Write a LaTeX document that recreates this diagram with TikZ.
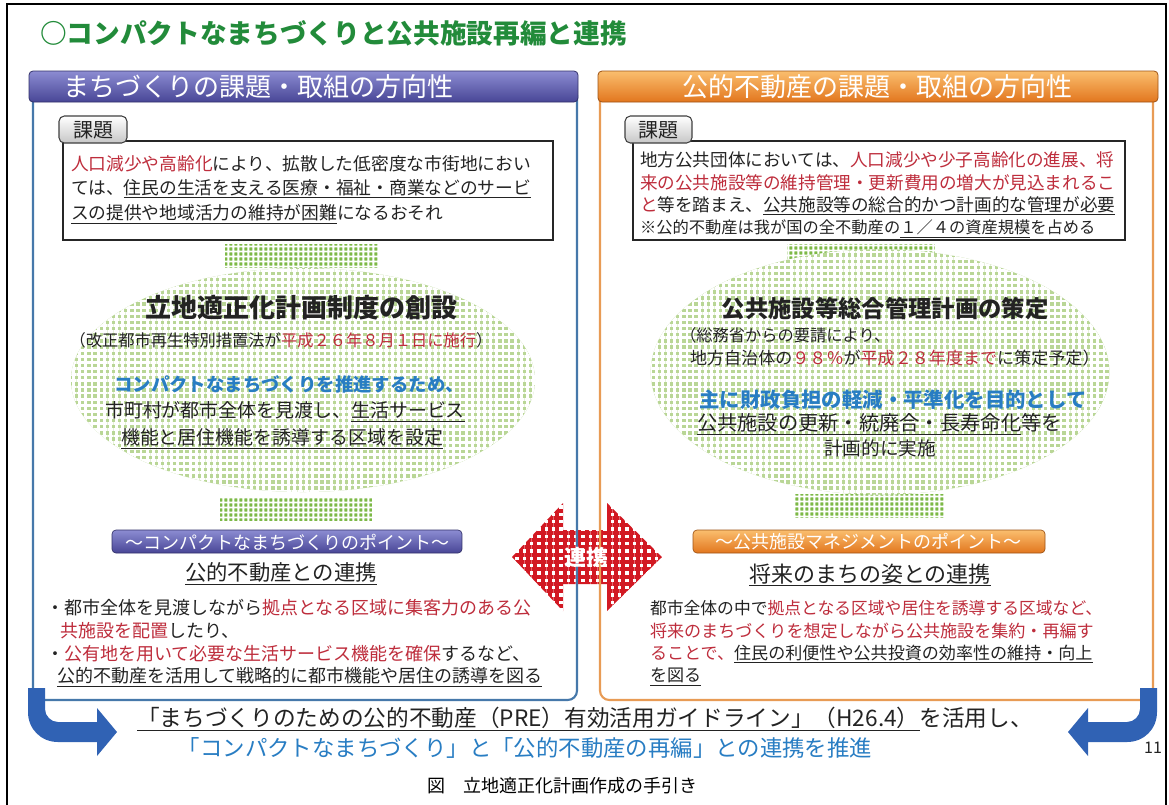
\documentclass[tikz,border=0pt]{standalone}
\usepackage{fontspec}
\setmainfont{Noto Sans CJK JP}
\usetikzlibrary{patterns.meta}
\definecolor{tgreen}{RGB}{34,139,58}
\definecolor{ptop}{RGB}{140,140,210}
\definecolor{pbot}{RGB}{72,70,150}
\definecolor{otop}{RGB}{250,190,110}
\definecolor{obot}{RGB}{226,118,30}
\definecolor{lborder}{RGB}{70,120,170}
\definecolor{rborder}{RGB}{232,155,85}
\definecolor{tred}{RGB}{190,45,60}
\definecolor{tblue}{RGB}{40,125,195}
\definecolor{ablue}{RGB}{48,98,180}
\definecolor{ared}{RGB}{210,25,35}
\definecolor{egreen}{RGB}{185,214,150}
\definecolor{cgreen}{RGB}{125,185,70}
\definecolor{tdark}{RGB}{35,35,35}
\newcommand\myfs[1]{\fontsize{#1}{#1}\selectfont}
\newcommand\rd[1]{\textcolor{tred}{#1}}
\newcommand\ul[1]{\underline{#1}}
\tikzset{
  txt/.style={anchor=west,font=\myfs{13.3},text=tdark},
  ctxt/.style={anchor=center,font=\myfs{13.3},text=tdark},
  hdrtxt/.style={anchor=center,font=\myfs{19.5},text=white},
  tabbox/.style={draw=black!75,line width=0.8pt,rounded corners=4pt,top color=white,bottom color=black!22},
  kbox/.style={draw=black!85,line width=0.9pt,fill=white},
  elbody/.style={fill=egreen},
  elgrid/.style={pattern={Hatch[distance=4.6pt,line width=2.1pt]},pattern color=white},
  capgrid/.style={pattern={Hatch[distance=4pt,line width=1.5pt]},pattern color=white},
}
\begin{document}
\begin{tikzpicture}[x=0.75pt,y=-0.75pt,every node/.style={inner sep=0pt,outer sep=0pt}]
\useasboundingbox (0,0) rectangle (1169,804);
\fill[white] (0,0) rectangle (1169,804);
% outer frame
\draw[line width=1.5pt] (7,810) -- (7,4) -- (1166,4) -- (1166,810);
% title
\node[anchor=west,font=\bfseries\myfs{20},text=tgreen] (title) at (40,33) {○コンパクトなまちづくりと公共施設再編と連携};

% ---------- red double arrow (behind panel borders)
\fill[white] (512,557) -- (563,503) -- (563,530) -- (607,530) -- (607,503) -- (662,557) -- (607,611) -- (607,584) -- (563,584) -- (563,611) -- cycle;
\fill[pattern={Hatch[distance=5.5pt,line width=3pt]},pattern color=ared] (512,557) -- (563,503) -- (563,530) -- (607,530) -- (607,503) -- (662,557) -- (607,611) -- (607,584) -- (563,584) -- (563,611) -- cycle;

% ---------- left panel
\draw[lborder,line width=1.6pt,rounded corners=7pt] (33,95) -- (33,700) -- (577,700) -- (577,95);
\shade[rounded corners=3pt,top color=ptop,bottom color=pbot,draw=pbot!70!black,line width=0.6pt] (29,71) rectangle (578,102);
\node[hdrtxt] (lhead) at (258,87) {まちづくりの課題・取組の方向性};

% ---------- right panel
\draw[rborder,line width=1.6pt,rounded corners=7pt] (600,95) -- (600,700) -- (1153,700) -- (1153,95);
\shade[rounded corners=3pt,top color=otop,bottom color=obot,draw=obot!70!black,line width=0.6pt] (598,71) rectangle (1158,102);
\node[hdrtxt] (rhead) at (877,87) {公的不動産の課題・取組の方向性};

% ---------- left kadai
\draw[kbox] (63,141) rectangle (553,240);
\shade[tabbox] (59,116) rectangle (127,143);
\node[font=\myfs{15},text=tdark] (ltab) at (93,130) {課題};
\node[txt] (lk1) at (71,164) {\rd{人口減少や高齢化}により、拡散した低密度な市街地におい};
\node[txt] (lk2) at (71,189) {ては、\ul{住民の生活を支える医療・福祉・商業などのサービ}};
\node[txt] (lk3) at (71,214) {\ul{スの提供や地域活力の維持が困難}になるおそれ};

% ---------- right kadai
\draw[kbox] (633,141) rectangle (1125,240);
\shade[tabbox] (625,116) rectangle (692,143);
\node[font=\myfs{15},text=tdark] (rtab) at (658,130) {課題};
\node[txt,font=\myfs{13.2}] (rk1) at (640,160) {地方公共団体においては、\rd{人口減少や少子高齢化の進展、将}};
\node[txt,font=\myfs{13.2}] (rk2) at (640,183) {\rd{来の公共施設等の維持管理・更新費用の増大が見込まれるこ}};
\node[txt,font=\myfs{13.2}] (rk3) at (640,206) {\rd{と}等を踏まえ、\ul{公共施設等の総合的かつ計画的な管理が必要}};
\node[txt,font=\myfs{12.2}] (rk4) at (640,229) {※公的不動産は我が国の全不動産の\ul{１／４の資産規模}を占める};

% ---------- left ellipse
\fill[cgreen] (225,244) rectangle (378,268);
\fill[capgrid] (225,244) rectangle (378,268);
\fill[cgreen] (220,498) rectangle (372,521);
\fill[capgrid] (220,498) rectangle (372,521);
\fill[elbody] (303,380) ellipse [x radius=174pt,y radius=84pt];
\fill[elgrid] (303,380) ellipse [x radius=174pt,y radius=84pt];
\node[ctxt,font=\bfseries\myfs{19.5}] (lel1) at (301,308) {立地適正化計画制度の創設};
\node[ctxt,font=\myfs{12.2}] (lel2) at (281,340) {（改正都市再生特別措置法が\rd{平成２６年８月１日に施行}）};
\node[ctxt,font=\bfseries\myfs{13.8},text=tblue] (lel3) at (289,384) {コンパクトなまちづくりを推進するため、};
\node[ctxt,font=\myfs{14.2}] (lel4) at (285,412) {市町村が都市全体を見渡し、\ul{生活サービス}};
\node[ctxt,font=\myfs{14.2}] (lel5) at (282,439) {\ul{機能と居住機能を誘導する区域を設定}};

% ---------- right ellipse
\fill[cgreen] (787,244) rectangle (935,264);
\fill[capgrid] (787,244) rectangle (935,264);
\fill[cgreen] (795,494) rectangle (945,518);
\fill[capgrid] (795,494) rectangle (945,518);
\fill[elbody] (880,372) ellipse [x radius=172pt,y radius=92pt];
\fill[elgrid] (880,372) ellipse [x radius=172pt,y radius=92pt];
\node[ctxt,font=\bfseries\myfs{17.5}] (rel1) at (885,309) {公共施設等総合管理計画の策定};
\node[txt,font=\myfs{12.2}] (rel2) at (680,335) {（総務省からの要請により、};
\node[txt,font=\myfs{12.8}] (rel3) at (690,358) {地方自治体の\rd{９８％}が\rd{平成２８年度まで}に策定予定）};
\node[ctxt,font=\bfseries\myfs{15.3},text=tblue] (rel4) at (893,400) {主に財政負担の軽減・平準化を目的として};
\node[txt,font=\myfs{15.2}] (rel5) at (697,424) {\ul{公共施設の更新・統廃合・長寿命化}等を};
\node[ctxt,font=\myfs{14}] (rel6) at (880,448) {計画的に実施};

% ---------- left bottom
\shade[rounded corners=3pt,top color=ptop,bottom color=pbot,draw=pbot!70!black,line width=0.5pt] (112,530) rectangle (462,553);
\node[ctxt,font=\myfs{13.5},text=white] (lbar) at (287,542) {～コンパクトなまちづくりのポイント～};
\node[ctxt,font=\myfs{16}] (lsub) at (281,574) {\ul{公的不動産との連携}};
\node[txt,font=\myfs{13.5}] (lb1) at (46,608) {・都市全体を見渡しながら\rd{拠点となる区域に集客力のある公}};
\node[txt,font=\myfs{13.5}] (lb2) at (60,631) {\rd{共施設を配置}したり、};
\node[txt,font=\myfs{13.5}] (lb3) at (46,654) {・\rd{公有地を用いて必要な生活サービス機能を確保}するなど、};
\node[txt,font=\myfs{13.5}] (lb4) at (57,677) {\ul{公的不動産を活用して戦略的に都市機能や居住の誘導を図る}};

% ---------- right bottom
\shade[rounded corners=3pt,top color=otop,bottom color=obot,draw=obot!70!black,line width=0.5pt] (693,530) rectangle (1045,553);
\node[ctxt,font=\myfs{13.5},text=white] (rbar) at (868,542) {～公共施設マネジメントのポイント～};
\node[ctxt,font=\myfs{16.5}] (rsub) at (870,575) {\ul{将来のまちの姿との連携}};
\node[txt,font=\myfs{12.6}] (rb1) at (650,608) {都市全体の中で\rd{拠点となる区域や居住を誘導する区域など、}};
\node[txt,font=\myfs{12.8}] (rb2) at (650,631) {\rd{将来のまちづくりを想定しながら公共施設を集約・再編す}};
\node[txt,font=\myfs{12.8}] (rb3) at (650,654) {\rd{ることで、}\ul{住民の利便性や公共投資の効率性の維持・向上}};
\node[txt,font=\myfs{12.8}] (rb4) at (650,677) {\ul{を図る}};

% ---------- renkei label
\node[font=\bfseries\myfs{16},text=white] (renkei) at (586,557) {連携};

% ---------- bottom blue arrows
\fill[ablue] (28,688) -- (28,712) .. controls (28,729) and (41,742) .. (58,742) -- (97,742) -- (97,756) -- (117,732) -- (97,708) -- (97,722) -- (58,722) .. controls (51,722) and (45,716) .. (45,709) -- (45,688) -- cycle;
\fill[ablue] (1157,688) -- (1157,712) .. controls (1157,729) and (1144,742) .. (1127,742) -- (1088,742) -- (1088,756) -- (1068,732) -- (1088,708) -- (1088,722) -- (1127,722) .. controls (1134,722) and (1140,716) .. (1140,709) -- (1140,688) -- cycle;

\node[ctxt,font=\myfs{17}] (g1) at (585,719) {\ul{「まちづくりのための公的不動産（PRE）有効活用ガイドライン」（H26.4）}を活用し、};
\node[ctxt,font=\myfs{16.8},text=tblue] (g2) at (525,748) {「コンパクトなまちづくり」と「公的不動産の再編」との連携を推進};
\node[font=\myfs{12},text=tdark] (pno) at (1153,748) {11};
\node[ctxt,font=\myfs{13.5},text=black] (cap) at (562,786) {図　立地適正化計画作成の手引き};
\end{tikzpicture}
\end{document}
